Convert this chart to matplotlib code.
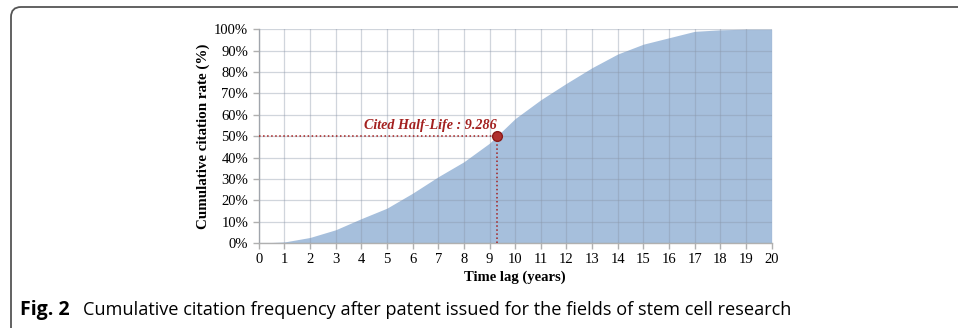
import matplotlib.pyplot as plt
from matplotlib.patches import FancyBboxPatch
from matplotlib.ticker import MultipleLocator, FuncFormatter

# cumulative citation rate by time lag (years)
years = list(range(0, 21))
cum_rate = [0, 0.5, 2.6, 6.2, 11.4, 16.3, 23.3, 31.0, 38.0, 46.7, 58.2,
            67.0, 74.7, 82.0, 88.4, 93.0, 96.0, 99.0, 99.7, 100, 100]
half_life = 9.286
half_rate = 50

fill_color = "#a6bfdc"
red = "#a3201f"

fig = plt.figure(figsize=(9.58, 3.28), dpi=100)
ax = fig.add_axes([0.270, 0.259, 0.5355, 0.652])

ax.fill_between(years, cum_rate, 0, color=fill_color, lw=0, zorder=1)

ax.set_xlim(0, 20)
ax.set_ylim(0, 100)
ax.xaxis.set_major_locator(MultipleLocator(1))
ax.yaxis.set_major_locator(MultipleLocator(10))
ax.yaxis.set_major_formatter(FuncFormatter(lambda v, p: f"{v:.0f}%"))
ax.grid(True, color="#8a96a8", alpha=0.4, lw=0.9, zorder=2)
ax.set_axisbelow(False)

for s in ["top", "right"]:
    ax.spines[s].set_visible(False)
for s in ["left", "bottom"]:
    ax.spines[s].set_color("#b0b0b0")
    ax.spines[s].set_linewidth(1.0)
ax.tick_params(colors="#b0b0b0", length=4, width=1.0, labelcolor="black",
               labelsize=10.5)
for lab in ax.get_xticklabels() + ax.get_yticklabels():
    lab.set_fontfamily("Liberation Serif")

ax.set_xlabel("Time lag (years)", fontfamily="Liberation Serif",
              fontweight="bold", fontsize=10.5, labelpad=3)
ax.set_ylabel("Cumulative citation rate (%)", fontfamily="Liberation Serif",
              fontweight="bold", fontsize=10.8, labelpad=3)

# half-life marker
ax.plot([0, half_life], [half_rate, half_rate], ls=":", color=red, lw=1.1, zorder=3)
ax.plot([half_life, half_life], [0, half_rate], ls=":", color=red, lw=1.1, zorder=3)
ax.plot(half_life, half_rate, "o", ms=7, color="#b0302e", mec="#8a1a18",
        mew=1, zorder=4, clip_on=False)
ax.text(half_life - 0.02, half_rate + 1.8, f"Cited Half-Life : {half_life}",
        ha="right", va="bottom", color=red, fontsize=10.2, style="italic",
        fontweight="bold", fontfamily="Liberation Serif", zorder=4)

# outer rounded frame, open at the bottom and right
frame = FancyBboxPatch((11, -100), 1000, 421, boxstyle="round,pad=0,rounding_size=10",
                       transform=None, fill=False, ec="#555555", lw=1.3,
                       clip_on=False)
fig.patches.append(frame)

fig.text(20 / 958, 1 - 310 / 328, "Fig. 2", fontfamily="Open Sans",
         fontweight="bold", fontsize=14, va="center", ha="left")
fig.text(83 / 958, 1 - 310 / 328,
         "Cumulative citation frequency after patent issued for the fields of stem cell research",
         fontfamily="Open Sans", fontsize=13.1, va="center", ha="left")

fig.savefig("out.png", dpi=100)
